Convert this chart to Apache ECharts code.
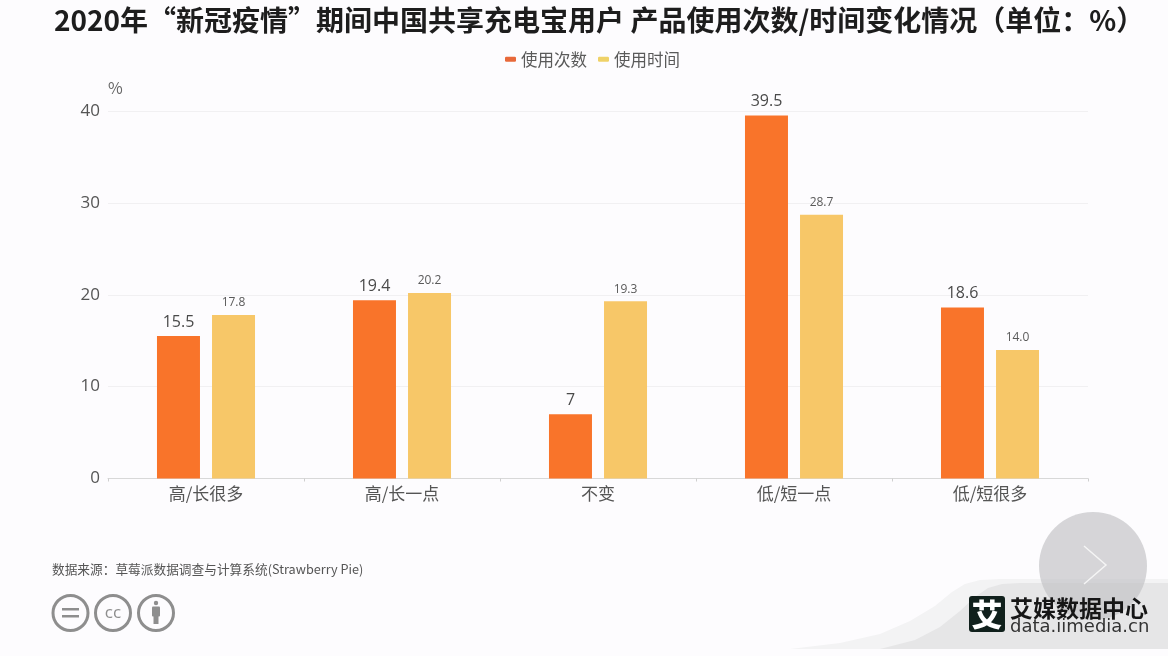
<!DOCTYPE html>
<html><head><meta charset="utf-8">
<style>html,body{margin:0;padding:0;background:#fdfcfe}#c{width:1168px;height:656px}</style>
<script src="https://cdn.jsdelivr.net/npm/echarts@6/dist/echarts.min.js"></script>
</head><body><div id="c"></div>
<script>
const titleText = '2020年“新冠疫情”期间中国共享充电宝用户 产品使用次数/时间变化情况（单位：%）';
const sourceText = '数据来源：草莓派数据调查与计算系统(Strawberry Pie)';
const categories = ['高/长很多','高/长一点','不变','低/短一点','低/短很多'];
const seriesNames = ['使用次数','使用时间'];
const useCount = [15.5,19.4,7,39.5,18.6];
const useTime = [17.8,20.2,19.3,28.7,14.0];
const yTicks = {min:0,max:40,interval:10};
const FONT = '"Noto Sans CJK SC","Noto Sans",sans-serif';
const chart = echarts.init(document.getElementById('c'),null,{renderer:'canvas'});
chart.setOption({
  backgroundColor:'#fdfcfe',
  animation:false,
  textStyle:{fontFamily:FONT},
  title:{text:titleText,left:49,top:1,textStyle:{fontFamily:FONT,fontSize:28,fontWeight:'bold',color:'#1d1d1d'}},
  legend:{top:46,left:500,itemWidth:11,itemHeight:5,itemGap:11,
    textStyle:{fontSize:16.5,color:'#5a5a5a',fontFamily:FONT},
    data:[{name:seriesNames[0],itemStyle:{color:'#e8693a'}},{name:seriesNames[1],itemStyle:{color:'#efd268'}}]},
  grid:{left:108,right:80,top:111,bottom:177.5},
  xAxis:{type:'category',data:categories,
    axisLine:{lineStyle:{color:'#d8d8d8'}},
    axisTick:{show:true,length:3,lineStyle:{color:'#cfcfcf'}},
    axisLabel:{fontSize:17,color:'#555',margin:7,fontFamily:FONT}},
  yAxis:{type:'value',min:yTicks.min,max:yTicks.max,interval:yTicks.interval,
    name:'%',nameGap:15,nameLocation:'end',
    nameTextStyle:{fontSize:16,color:'#666',align:'left'},
    axisLine:{show:false},axisTick:{show:false},
    axisLabel:{fontSize:17,color:'#555',margin:8,padding:[0,0,2,0],fontFamily:'"Open Sans",sans-serif'},
    splitLine:{lineStyle:{color:'#f1f0f2'}}},
  series:[
    {name:seriesNames[0],type:'bar',data:useCount,barWidth:43,barGap:'28%',
     itemStyle:{color:'#f9742a'},
     label:{show:true,position:'top',distance:6,fontSize:16,color:'#4a4a4a',fontFamily:'"Open Sans",sans-serif'}},
    {name:seriesNames[1],type:'bar',data:useTime,barWidth:43,
     itemStyle:{color:'#f7c768'},
     label:{show:true,position:'top',distance:6,fontSize:12,color:'#5a5a5a',fontFamily:'"Open Sans",sans-serif',
       formatter:p=>p.value.toFixed(1)}}
  ],
  graphic:[
    {type:'text',x:52,y:563,style:{text:sourceText,font:'12.7px '+FONT,fill:'#555'}},
    {type:'circle',shape:{cx:70.5,cy:613,r:17.5},style:{fill:'none',stroke:'#8e8e8e',lineWidth:3}},
    {type:'rect',shape:{x:62,y:608,width:17,height:2.5},style:{fill:'#8e8e8e'}},
    {type:'rect',shape:{x:62,y:615,width:17,height:2.5},style:{fill:'#8e8e8e'}},
    {type:'circle',shape:{cx:113,cy:613,r:17.5},style:{fill:'none',stroke:'#8e8e8e',lineWidth:3}},
    {type:'text',x:113,y:613,style:{text:'cc',font:'17px "Open Sans",sans-serif',fill:'#8e8e8e',align:'center',verticalAlign:'middle'}},
    {type:'circle',shape:{cx:156,cy:613,r:17.5},style:{fill:'none',stroke:'#8e8e8e',lineWidth:3}},
    {type:'circle',shape:{cx:156,cy:603,r:2.2},style:{fill:'#8e8e8e'}},
    {type:'rect',shape:{x:152,y:606.5,width:8,height:10,r:1},style:{fill:'#8e8e8e'}},
    {type:'rect',shape:{x:153.5,y:615,width:5,height:9},style:{fill:'#8e8e8e'}},
    {type:'polygon',z:1,shape:{points:[[790,649],[840,643],[880,634],[910,621],[935,606],[952,592],[965,584],[980,580],[1000,579],[1168,579],[1168,649]]},style:{fill:'#f3f3f4'}},
    {type:'polygon',z:1,shape:{points:[[880,649],[915,640],[940,627],[960,611],[975,597],[988,588],[1002,584],[1020,583],[1168,583],[1168,649]]},style:{fill:'#e6e6e7'}},
    {type:'circle',z:2,shape:{cx:1093,cy:566,r:54},style:{fill:'rgba(195,195,197,0.68)'}},
    {type:'polyline',z:3,shape:{points:[[1084,546],[1106,565],[1084,584]]},style:{fill:'none',stroke:'#f5f5f5',lineWidth:1.5}},
    {type:'rect',z:4,shape:{x:969,y:596,width:36,height:36,r:3},style:{fill:'#10201c'}},
    {type:'text',z:5,x:987,y:614,style:{text:'艾',font:'900 31px '+FONT,fill:'#fff',align:'center',verticalAlign:'middle'}},
    {type:'text',z:5,x:1010,y:608,style:{text:'艾媒数据中心',font:'bold 23px '+FONT,fill:'#161616',verticalAlign:'middle'}},
    {type:'text',z:5,x:1010,y:627,style:{text:'data.iimedia.cn',font:'18px "DejaVu Sans",sans-serif',fill:'#333',verticalAlign:'middle'}}
  ]
});
</script></body></html>
